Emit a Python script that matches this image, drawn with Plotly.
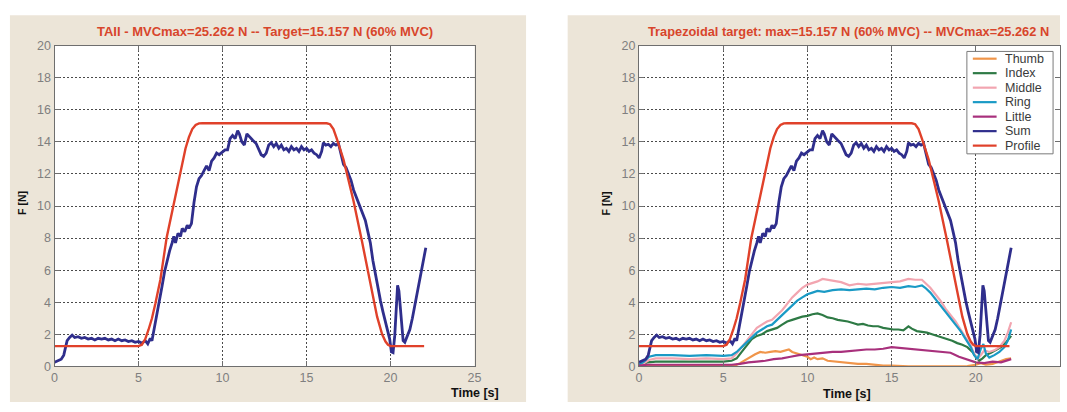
import plotly.graph_objects as go

# ---------------- data ----------------
sum_t = [0.0, 0.2, 0.4, 0.55, 0.65, 0.75, 0.9, 1.05, 1.2, 1.4, 1.6, 1.8, 2.0, 2.2, 2.4, 2.6, 2.8, 3.0,
         3.2, 3.4, 3.6, 3.8, 4.0, 4.2, 4.4, 4.6, 4.8, 5.0, 5.2, 5.4, 5.55, 5.7, 5.8, 5.95, 6.1, 6.25,
         6.4, 6.55, 6.7, 6.85, 7.0, 7.1, 7.2, 7.35, 7.5, 7.6, 7.75, 7.9, 8.0, 8.15, 8.3, 8.45, 8.6,
         8.75, 8.9, 9.05, 9.2, 9.35, 9.5, 9.65, 9.8, 10.0, 10.15, 10.3, 10.45, 10.6, 10.75, 10.9,
         11.0, 11.15, 11.3, 11.45, 11.6, 11.8, 12.0, 12.15, 12.3, 12.45, 12.6, 12.75, 12.9, 13.05,
         13.2, 13.35, 13.5, 13.65, 13.8, 13.95, 14.1, 14.25, 14.4, 14.55, 14.7, 14.85, 15.0, 15.15,
         15.3, 15.45, 15.6, 15.75, 15.9, 16.0, 16.15, 16.3, 16.45, 16.6, 16.75, 16.9, 17.05, 17.2,
         17.35, 17.5, 17.65, 17.8, 17.95, 18.1, 18.3, 18.5, 18.65, 18.8, 18.95, 19.1, 19.25, 19.4,
         19.55, 19.7, 19.85, 19.95, 20.05, 20.15, 20.25, 20.35, 20.42, 20.5, 20.58, 20.66, 20.75,
         20.85, 21.0, 21.15, 21.3, 21.45, 21.6, 21.75, 21.9, 22.0, 22.1]
sum_f = [0.25, 0.35, 0.45, 0.7, 1.2, 1.6, 1.8, 1.95, 1.8, 1.85, 1.75, 1.8, 1.7, 1.75, 1.65, 1.75, 1.7, 1.75,
         1.65, 1.7, 1.6, 1.7, 1.6, 1.65, 1.55, 1.6, 1.5, 1.55, 1.45, 1.6, 1.4, 1.75, 1.6, 2.4, 3.3, 4.2,
         5.0, 5.9, 6.6, 7.2, 7.7, 8.1, 7.7, 8.3, 8.1, 8.6, 8.4, 8.8, 8.6, 8.9, 10.2, 11.2, 11.7,
         11.9, 12.2, 12.5, 12.2, 12.8, 13.0, 13.3, 13.2, 13.4, 13.5, 13.5, 14.2, 14.4, 14.2, 14.7,
         14.5, 14.0, 13.8, 14.5, 14.3, 14.1, 13.9, 13.5, 13.2, 13.1, 13.3, 13.8, 13.95, 13.7,
         13.9, 13.6, 13.8, 13.5, 13.6, 13.4, 13.7, 13.5, 13.6, 13.4, 13.7, 13.5, 13.6, 13.4,
         13.5, 13.3, 13.2, 13.0, 13.4, 13.95, 13.8, 13.85, 13.7, 13.9, 13.8, 13.9, 13.2, 12.6,
         12.4, 12.0, 11.6, 11.0, 10.6, 10.2, 9.7, 9.1, 8.4, 7.7, 6.6, 5.7, 4.9, 4.1,
         3.4, 2.7, 2.2, 1.7, 0.9, 0.85, 1.9, 4.0, 5.05, 4.7, 3.8, 2.5, 1.6,
         1.5, 1.9, 2.3, 3.0, 3.8, 4.7, 5.6, 6.3, 6.9, 7.4]

profile_t = [0.0, 5.0, 5.2, 5.4, 5.6, 5.8, 6.0, 6.3, 6.67, 7.0, 7.46, 7.8, 8.0, 8.2, 8.4, 8.6, 8.8,
             16.2, 16.4, 16.6, 16.8, 17.0, 17.2, 17.5, 17.8, 18.3, 18.8, 19.2, 19.5, 19.7, 19.85,
             20.0, 22.0]
profile_f = [1.26, 1.26, 1.35, 1.7, 2.3, 3.0, 3.9, 5.4, 8.0, 9.7, 12.0, 13.6, 14.3, 14.8, 15.05, 15.15,
             15.16, 15.16, 15.1, 14.8, 14.2, 13.6, 12.9, 11.6, 10.3, 7.8, 5.2, 3.1, 2.0, 1.55, 1.35,
             1.26, 1.26]

thumb_t = [0, 1, 2, 3, 4, 5, 5.7, 6.0, 6.3, 6.6, 6.9, 7.2, 7.5, 7.8, 8.1, 8.4, 8.7, 8.9, 9.1, 9.4,
           9.7, 10.0, 10.2, 10.4, 10.6, 10.9, 11.2, 11.6, 12.0, 12.5, 13.0, 13.5, 14.0, 14.5, 15.0,
           15.5, 16, 17, 18, 19, 19.5, 20, 20.3, 20.6, 21.0, 21.4, 21.8, 22.1]
thumb_f = [0.05, 0.05, 0.05, 0.05, 0.05, 0.05, 0.05, 0.2, 0.4, 0.6, 0.75, 0.9, 0.85, 0.9, 0.95, 0.9,
           1.0, 1.05, 0.9, 0.8, 0.7, 0.6, 0.45, 0.55, 0.45, 0.5, 0.35, 0.3, 0.25, 0.2, 0.15, 0.15,
           0.1, 0.05, 0.05, 0.02, 0, 0, 0, 0, 0.02, 0.1, 0.2, 0.1, 0.15, 0.3, 0.45, 0.5]

index_t = [0, 0.5, 1, 2, 3, 4, 5, 5.5, 5.8, 6.1, 6.4, 6.7, 7.0, 7.3, 7.6, 7.9, 8.2, 8.5, 8.8, 9.1,
           9.4, 9.7, 10.0, 10.3, 10.6, 10.9, 11.2, 11.5, 11.8, 12.1, 12.4, 12.7, 13.0, 13.3, 13.6,
           13.9, 14.2, 14.5, 14.8, 15.1, 15.4, 15.7, 16.0, 16.2, 16.5, 16.8, 17.1, 17.4, 17.7, 18.0,
           18.3, 18.6, 18.9, 19.2, 19.5, 19.8, 20.0, 20.2, 20.4, 20.6, 20.9, 21.2, 21.5, 21.8, 22.1]
index_f = [0.1, 0.25, 0.3, 0.3, 0.3, 0.3, 0.3, 0.35, 0.5, 0.9, 1.3, 1.7, 1.9, 2.0, 2.2, 2.3, 2.4,
           2.6, 2.8, 2.9, 3.0, 3.1, 3.15, 3.25, 3.3, 3.2, 3.05, 3.0, 2.9, 2.85, 2.8, 2.7, 2.6, 2.65,
           2.55, 2.5, 2.5, 2.4, 2.35, 2.3, 2.3, 2.25, 2.5, 2.35, 2.2, 2.15, 2.1, 2.0, 1.9, 1.8, 1.7,
           1.6, 1.45, 1.35, 1.2, 0.9, 0.6, 0.35, 0.5, 0.7, 0.85, 1.0, 1.2, 1.5, 1.9]

middle_t = [0, 0.3, 0.6, 1, 2, 3, 4, 5, 5.5, 5.8, 6.1, 6.4, 6.7, 7.0, 7.3, 7.6, 7.9, 8.2, 8.5, 8.8,
            9.1, 9.4, 9.7, 10.0, 10.3, 10.6, 10.9, 11.2, 11.6, 12.0, 12.5, 13.0, 13.5, 14.0, 14.5,
            15.0, 15.5, 16.0, 16.4, 16.8, 17.0, 17.3, 17.6, 17.9, 18.2, 18.5, 18.8, 19.1, 19.4, 19.7,
            19.9, 20.1, 20.3, 20.5, 20.8, 21.1, 21.4, 21.7, 21.9, 22.1]
middle_f = [0.1, 0.2, 0.4, 0.5, 0.5, 0.45, 0.5, 0.45, 0.5, 0.8, 1.2, 1.6, 2.0, 2.4, 2.6, 2.8, 2.9,
            3.2, 3.5, 3.9, 4.3, 4.6, 4.9, 5.1, 5.2, 5.3, 5.45, 5.4, 5.35, 5.25, 5.05, 5.15, 5.1, 5.15,
            5.2, 5.25, 5.3, 5.45, 5.4, 5.4, 5.2, 4.9, 4.5, 4.1, 3.6, 3.2, 2.8, 2.3, 1.8, 1.3, 0.8,
            0.45, 0.7, 1.0, 0.9, 1.0, 1.2, 1.6, 2.1, 2.75]

ring_t = [0, 0.3, 0.6, 1, 2, 3, 4, 5, 5.5, 5.8, 6.1, 6.4, 6.7, 7.0, 7.3, 7.6, 7.9, 8.2, 8.5, 8.8,
          9.1, 9.4, 9.7, 10.0, 10.3, 10.6, 11.0, 11.5, 12.0, 12.5, 13.0, 13.5, 14.0, 14.5, 15.0,
          15.5, 16.0, 16.4, 16.8, 17.0, 17.3, 17.6, 17.9, 18.2, 18.5, 18.8, 19.1, 19.4, 19.7, 19.9,
          20.1, 20.3, 20.45, 20.6, 20.8, 21.1, 21.4, 21.7, 21.9, 22.1]
ring_f = [0.1, 0.3, 0.6, 0.7, 0.7, 0.65, 0.7, 0.65, 0.7, 0.9, 1.2, 1.5, 1.8, 2.1, 2.3, 2.5, 2.6,
          2.9, 3.2, 3.5, 3.8, 4.1, 4.3, 4.5, 4.6, 4.7, 4.65, 4.75, 4.8, 4.75, 4.8, 4.85, 4.8, 4.9,
          4.95, 4.9, 5.0, 4.95, 5.05, 4.9, 4.6, 4.2, 3.8, 3.4, 3.0, 2.6, 2.2, 1.7, 1.2, 0.7, 0.45,
          1.1, 1.4, 0.8, 0.55, 0.7, 0.9, 1.2, 1.6, 2.3]

little_t = [0, 0.5, 1, 2, 3, 4, 5, 5.5, 6.0, 6.5, 7.0, 7.5, 8.0, 8.5, 9.0, 9.5, 10.0, 10.5, 11.0,
            11.5, 12.0, 12.5, 13.0, 13.5, 14.0, 14.5, 15.0, 15.5, 16.0, 16.5, 17.0, 17.5, 18.0,
            18.5, 19.0, 19.5, 20.0, 20.5, 21.0, 21.5, 22.1]
little_f = [0.05, 0.1, 0.1, 0.1, 0.1, 0.1, 0.1, 0.1, 0.15, 0.25, 0.3, 0.35, 0.45, 0.5, 0.6, 0.7,
            0.75, 0.8, 0.85, 0.9, 0.9, 0.95, 1.0, 1.05, 1.05, 1.1, 1.2, 1.15, 1.1, 1.05, 1.0, 0.95,
            0.9, 0.85, 0.6, 0.4, 0.25, 0.2, 0.3, 0.25, 0.45]

x_ticks = [0, 5, 10, 15, 20, 25]
y_ticks = [0, 2, 4, 6, 8, 10, 12, 14, 16, 18, 20]
legend_names = ["Thumb", "Index", "Middle", "Ring", "Little", "Sum", "Profile"]
title_left = "TAII - MVCmax=25.262 N -- Target=15.157 N (60% MVC)"
title_right = "Trapezoidal target: max=15.157 N (60% MVC) -- MVCmax=25.262 N"

# ---------------- styling ----------------
W, H = 1067, 412
COL = {"Thumb": "#f0954a", "Index": "#2e7a45", "Middle": "#f2a5b0", "Ring": "#1a9ac5",
       "Little": "#a8307c", "Sum": "#2f2e8c", "Profile": "#e0412a"}
WID = {"Thumb": 2.2, "Index": 2.2, "Middle": 2.2, "Ring": 2.2, "Little": 2.2, "Sum": 2.8, "Profile": 2.4}
BEIGE = "#ece5d8"
FONT = "Liberation Sans, Arial, sans-serif"

def px(x):
    return x / W

def py(y):
    return 1 - y / H

L_PLOT = (52, 476)
R_PLOT = (642, 1067)
TOP, BOT = 40, 372

fig = go.Figure()

series = {
    "Thumb": (thumb_t, thumb_f), "Index": (index_t, index_f), "Middle": (middle_t, middle_f),
    "Ring": (ring_t, ring_f), "Little": (little_t, little_f), "Sum": (sum_t, sum_f),
    "Profile": (profile_t, profile_f),
}

for name in ["Sum", "Profile"]:
    t, f = series[name]
    fig.add_trace(go.Scatter(x=t, y=f, mode="lines", name=name, showlegend=False,
                             line=dict(color=COL[name], width=WID[name]), xaxis="x", yaxis="y"))
for name in legend_names:
    t, f = series[name]
    fig.add_trace(go.Scatter(x=t, y=f, mode="lines", name=name, showlegend=False,
                             line=dict(color=COL[name], width=WID[name]), xaxis="x2", yaxis="y2"))

axis_common = dict(showline=True, linecolor="#6e6e6e", linewidth=1, mirror="ticks",
                   ticks="inside", ticklen=5, tickcolor="#6e6e6e", showgrid=True,
                   gridcolor="#4a4a4a", griddash="2px,2px", gridwidth=1, zeroline=False,
                   tickfont=dict(family=FONT, size=12.5, color="#7f7f7f"), fixedrange=True)

ydom = [py(BOT), py(TOP)]
fig.update_layout(
    width=W, height=H, autosize=False, margin=dict(l=0, r=0, t=0, b=0),
    paper_bgcolor="white", plot_bgcolor="white",
    xaxis=dict(domain=[px(L_PLOT[0]), px(L_PLOT[1])], range=[0, 25], tickvals=x_ticks,
               anchor="y", **axis_common),
    yaxis=dict(domain=ydom, range=[0, 20], tickvals=y_ticks, anchor="x", **axis_common),
    xaxis2=dict(domain=[px(R_PLOT[0]), px(R_PLOT[1])], range=[0, 25], tickvals=x_ticks,
                anchor="y2", **axis_common),
    yaxis2=dict(domain=ydom, range=[0, 20], tickvals=y_ticks, anchor="x2", **axis_common),
    showlegend=False,
)

shapes = []
# beige figure panels
for (x0, x1) in [(7, 528), (570, 1067)]:
    shapes.append(dict(type="rect", xref="paper", yref="paper", x0=px(x0), x1=px(x1),
                       y0=py(409), y1=py(8.5), fillcolor=BEIGE, line=dict(width=0), layer="below"))
# white plot areas
for (x0, x1) in [L_PLOT, R_PLOT]:
    shapes.append(dict(type="rect", xref="paper", yref="paper", x0=px(x0), x1=px(x1),
                       y0=py(BOT), y1=py(TOP), fillcolor="white", line=dict(width=0), layer="below"))

annotations = []
# legend box (manual, to match the compact MATLAB legend)
LEG_X0, LEG_X1, LEG_Y0, LEG_Y1 = 973, 1060, 46, 152
shapes.append(dict(type="rect", xref="paper", yref="paper", x0=px(LEG_X0), x1=px(LEG_X1),
                   y0=py(LEG_Y1), y1=py(LEG_Y0), fillcolor="white",
                   line=dict(color="#7a7a7a", width=1), layer="above"))
for i, name in enumerate(legend_names):
    yy = 53.5 + 15 * i
    shapes.append(dict(type="line", xref="paper", yref="paper", x0=px(979), x1=px(1003),
                       y0=py(yy), y1=py(yy), line=dict(color=COL[name], width=2.2), layer="above"))
    annotations.append(dict(text=name, xref="paper", yref="paper", x=px(1009), y=py(yy),
                            xanchor="left", yanchor="middle", showarrow=False,
                            font=dict(family=FONT, size=12.5, color="#3a3a3a")))

# titles
for txt, cx, fs in [(title_left, 264, 13), (title_right, 854, 12.8)]:
    annotations.append(dict(text=txt, xref="paper", yref="paper", x=px(cx), y=py(25),
                            xanchor="center", yanchor="middle", showarrow=False,
                            font=dict(family=FONT, size=fs, color="#d8452b", weight="bold")))
# axis labels
for cx, cy in [(19, 203), (609, 203)]:
    annotations.append(dict(text="F [N]", xref="paper", yref="paper", x=px(cx), y=py(cy),
                            xanchor="center", yanchor="middle", textangle=-90, showarrow=False,
                            font=dict(family=FONT, size=10.5, color="#111111", weight="bold")))
for cx, cy in [(476, 400), (852, 401)]:
    annotations.append(dict(text="Time [s]", xref="paper", yref="paper", x=px(cx), y=py(cy),
                            xanchor="center", yanchor="middle", showarrow=False,
                            font=dict(family=FONT, size=12.5, color="#111111", weight="bold")))

fig.update_layout(shapes=shapes, annotations=annotations)
fig.write_html("out.html")
